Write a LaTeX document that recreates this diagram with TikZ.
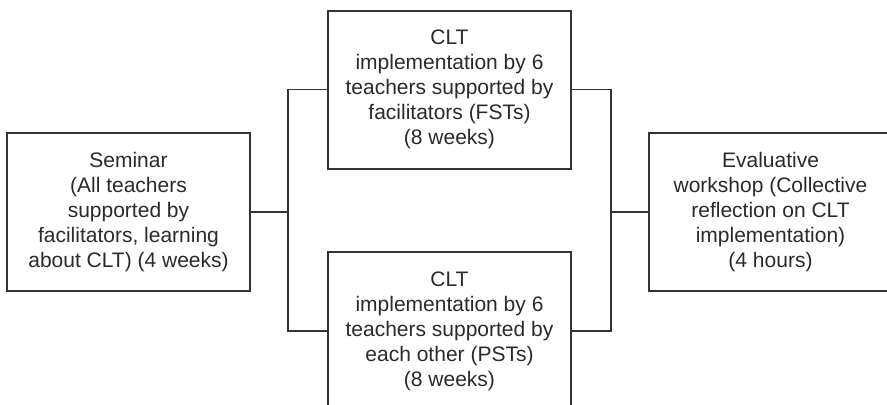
\documentclass[tikz,border=0pt]{standalone}
\usepackage{fontspec}
\setmainfont{Liberation Sans}
\definecolor{ink}{HTML}{2A2A2A}
\definecolor{rule}{HTML}{333333}
\tikzset{
	stage/.style={draw=rule,line width=1pt,text=ink,align=center,
		minimum width=121.5pt,minimum height=79pt,inner sep=0pt,
		font=\fontsize{10.5pt}{12.5pt}\selectfont},
	link/.style={draw=rule,line width=0.65pt}
}
\begin{document}
\begin{tikzpicture}[x=0.5pt,y=-0.5pt]
		\clip (0,0) rectangle (887,404);
		\path
		(128.5,212) node[stage] (sem) {Seminar\\(All teachers\\supported by\\facilitators, learning\\about CLT) (4 weeks)}
		(449.5,89.5) node[stage] (fst) {CLT\\implementation by 6\\teachers supported by\\facilitators (FSTs)\\(8 weeks)}
		(449.5,331) node[stage] (pst) {CLT\\implementation by 6\\teachers supported by\\each other (PSTs)\\(8 weeks)}
		(770.5,212) node[stage] (eval) {Evaluative\\workshop (Collective\\reflection on CLT\\implementation)\\(4 hours)}
		;
		\draw[link]
		(fst.west) -- ++(-39,0) coordinate (fl) |- (pst.west)
		(sem.east) -- (sem.east -| fl)
		(fst.east) -- ++(39,0) coordinate (fr) |- (pst.east)
		(eval.west) -- (eval.west -| fr);
\end{tikzpicture}
\end{document}
